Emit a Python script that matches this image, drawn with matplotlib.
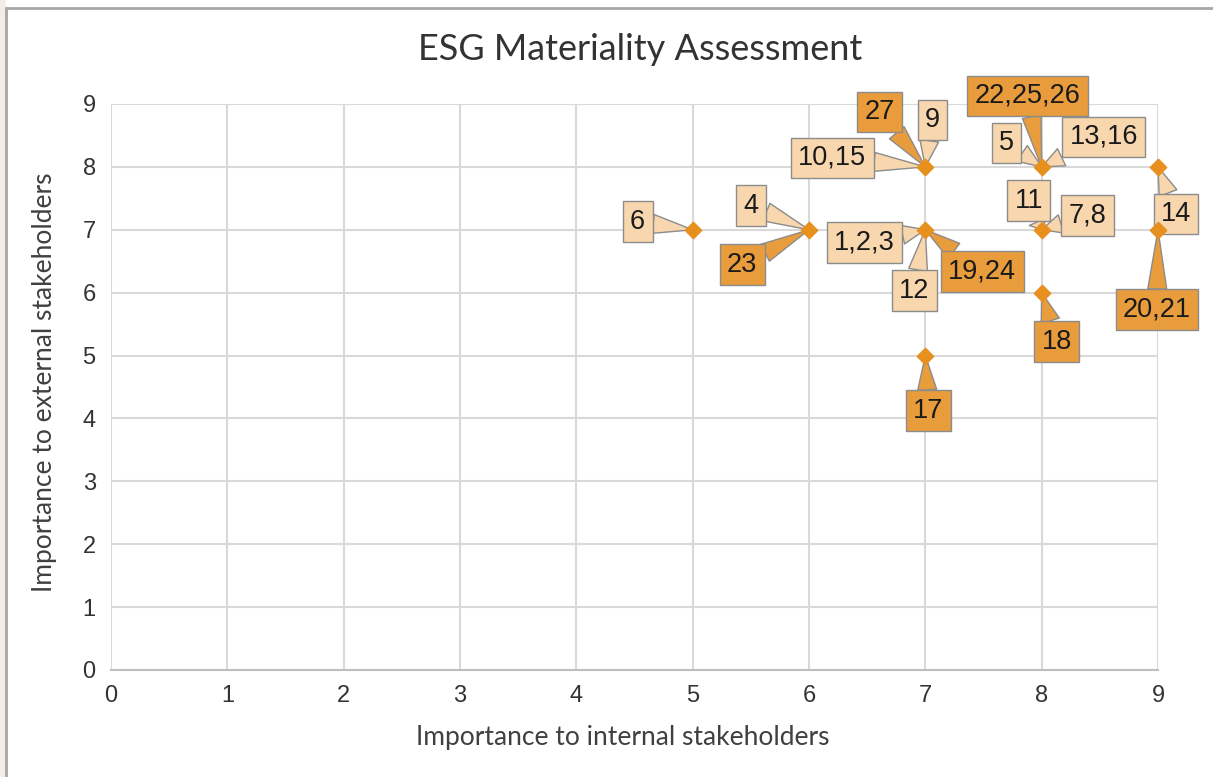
import matplotlib.pyplot as plt
from matplotlib.patches import Rectangle

# Scores for each plotted point
x_internal = [5, 6, 7, 7, 7, 8, 8, 8, 9, 9]
y_external = [7, 7, 8, 7, 5, 8, 7, 6, 8, 7]

# Callout labels: text, point (x, y), highlighted
label_text = ["6", "4", "23", "1,2,3", "12", "19,24", "10,15", "27", "9",
              "22,25,26", "5", "13,16", "11", "7,8", "14", "20,21", "18", "17"]
label_x = [5, 6, 6, 7, 7, 7, 7, 7, 7, 8, 8, 8, 8, 8, 9, 9, 8, 7]
label_y = [7, 7, 7, 7, 7, 7, 8, 8, 8, 8, 8, 8, 7, 7, 8, 7, 6, 5]
label_high = [False, False, True, False, False, True, False, True, False,
              True, False, False, False, False, False, True, True, True]

# layout: callout box offsets from the point, in pixels
offsets = [(-55, 8), (-58, 24), (-67, -35), (-61, -13), (-11, -61), (57, -42),
           (-93, 9), (-46, 55), (7, 47), (-14, 71), (-35, 24), (62, 30),
           (-13, 29), (46, 14), (18, -47), (-1, -80), (15, -49), (3, -55)]

light = '#f8d6ae'
dark = '#e99c3b'
marker_col = '#e8901e'
edge = '#8c8c8c'

fig = plt.figure(figsize=(12.13, 7.77), dpi=100)
fig.patch.set_facecolor('white')
fig.patches.append(Rectangle((0, 0), 6 / 1213, 1, transform=fig.transFigure,
                             facecolor='#f4ede5', edgecolor='none'))
fig.patches.append(Rectangle((6 / 1213, -0.05), 1.1, 1 - 8 / 777 + 0.05,
                             transform=fig.transFigure, facecolor='none',
                             edgecolor='#a6a6a6', lw=2))

ax = fig.add_axes([111 / 1213, 1 - 670 / 777, 1047 / 1213, 566 / 777])
ax.set_xlim(0, 9)
ax.set_ylim(0, 9)
ax.set_xticks(range(10))
ax.set_yticks(range(10))
ax.grid(True, color='#d9d9d9', lw=1.5)
ax.set_axisbelow(True)
for s in ['top', 'right', 'left']:
    ax.spines[s].set_visible(False)
ax.spines['bottom'].set_color('#bfbfbf')
ax.spines['bottom'].set_linewidth(1.5)
ax.tick_params(length=0, labelsize=17, labelcolor='#333333', pad=11)
for t in ax.get_xticklabels() + ax.get_yticklabels():
    t.set_fontfamily('Liberation Sans')

ax.scatter(x_internal, y_external, marker='D', s=70, color=marker_col,
           zorder=5, clip_on=False)

for txt, lx, ly, hi, off in zip(label_text, label_x, label_y, label_high, offsets):
    fc = dark if hi else light
    ax.annotate(txt, xy=(lx, ly), xytext=off, textcoords='offset pixels',
                ha='center', va='center', fontsize=19.5, color='#1a1a1a',
                family='Liberation Sans', zorder=4, annotation_clip=False,
                bbox=dict(boxstyle='square,pad=0.27', fc=fc, ec=edge, lw=1),
                arrowprops=dict(arrowstyle='wedge,tail_width=0.7', fc=fc,
                                ec=edge, lw=1, shrinkA=0, shrinkB=0))

fig.text(640 / 1213, 1 - 50 / 777, 'ESG Materiality Assessment', ha='center',
         va='center', fontsize=26, family='Lato', color='#333333')
fig.text(623 / 1213, 1 - 737 / 777, 'Importance to internal stakeholders',
         ha='center', va='center', fontsize=19, family='Lato',
         color='#404040')
fig.text(45 / 1213, 1 - 382 / 777, 'Importance to external stakeholders',
         ha='center', va='center', rotation=90, fontsize=19, family='Lato',
         color='#404040')

fig.savefig('out.png', dpi=100)
